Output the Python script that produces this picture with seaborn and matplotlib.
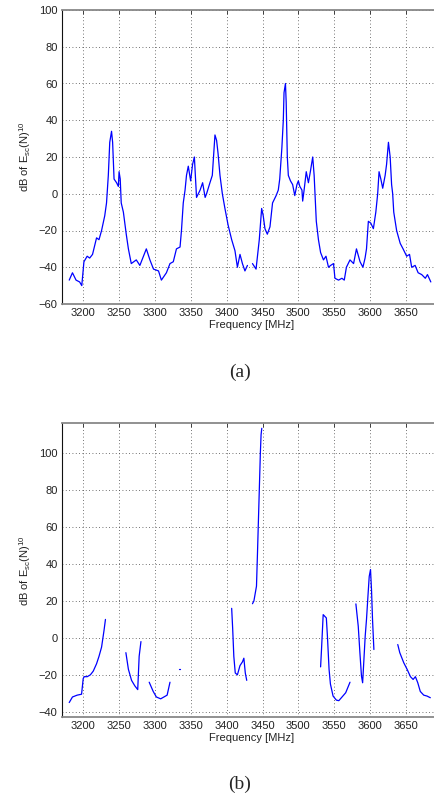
import numpy as np
import pandas as pd
import matplotlib
matplotlib.use("Agg")
import matplotlib.pyplot as plt
import seaborn as sns

# panel (a): continuous spectrum, one gap near 3432 MHz
freq_a = [3180.5, 3185, 3190, 3195, 3198, 3201, 3205.5, 3209, 3213, 3218.6, 3222, 3225.6, 3230, 3232.5,
          3235, 3237, 3239.5, 3241, 3243, 3246.5, 3249, 3250, 3251.6, 3253, 3256, 3260, 3263, 3267,
          3274, 3279, 3288, 3293, 3298, 3305, 3309, 3316, 3321, 3325.6, 3330, 3335, 3337, 3339.5,
          3342, 3344, 3346.5, 3349.8, 3352.5, 3355, 3358, 3363, 3366.5, 3370, 3372, 3376.7, 3380,
          3383.7, 3386, 3388, 3390.7, 3394, 3397.6, 3402, 3407, 3411.6, 3415, 3418.6, 3422, 3425.5,
          3429, 3432, 3436, 3441, 3445.5, 3448.8, 3451, 3453.4, 3456.7, 3460.4, 3464, 3469, 3472,
          3474, 3477, 3479, 3480, 3482, 3483, 3484.6, 3486, 3489, 3492, 3495, 3498, 3500, 3502,
          3505, 3506, 3508, 3511, 3514, 3516.7, 3520, 3522, 3525, 3528, 3531, 3535, 3538.5, 3542,
          3545, 3549, 3551, 3556, 3560.7, 3564, 3567, 3572, 3577, 3581, 3586, 3590, 3593, 3595,
          3597.6, 3601, 3604.6, 3608, 3610.6, 3612.5, 3615, 3617.6, 3621, 3623, 3625.6, 3628, 3630,
          3631.5, 3633, 3637, 3642, 3646, 3651, 3655, 3658, 3662.8, 3667, 3672, 3677, 3680, 3684.7]
level_a = [-47, -43, -47, -48, -50, -37, -34, -35, -33, -24, -25, -20, -12, -5,
           10, 28, 34, 28, 8, 6, 4, 12, 8, -5, -10, -22, -30, -38,
           -36, -39, -30, -36, -41, -42, -47, -43, -38, -37, -30, -29, -20, -5,
           2, 10, 15, 7, 16, 20, -2, 2, 6, -2, 0, 6, 10,
           32, 29, 22, 10, 0, -8, -17, -25, -31, -40, -33, -38, -42,
           -39, np.nan, -38, -41, -25, -8, -12, -19, -22, -18, -5, -1, 2,
           8, 25, 40, 55, 60, 50, 20, 10, 7, 5, -1, 5, 7, 4,
           2, -4, 2, 12, 6, 12, 20, 10, -15, -25, -32, -36, -34, -40,
           -39, -38, -46, -47, -46, -47, -40, -36, -38, -30, -37, -40, -35, -30,
           -15, -16, -19, -10, 0, 12, 8, 3, 10, 16, 28, 20, 5,
           0, -10, -20, -27, -30, -34, -33, -40, -39, -43, -44, -46, -44, -48]

# panel (b): broken segments, NaN marks a gap
freq_b = [3180.5, 3185, 3191.6, 3197.7, 3200, 3201.4, 3205.6, 3210, 3214, 3218.6, 3222, 3225.6, 3229, 3231,
          np.nan,
          3259.5, 3263, 3267.4, 3272, 3276, 3278, 3280.5,
          np.nan,
          3292, 3297.6, 3302, 3308, 3312.5, 3317, 3321,
          np.nan,
          3333.5, 3334.5,
          np.nan,
          3407, 3408.4, 3410, 3412, 3415, 3418.6, 3422, 3424, 3426, 3428,
          np.nan,
          3436, 3438, 3441.6, 3443, 3445, 3447, 3448, 3449,
          np.nan,
          3531, 3532.3, 3534.6, 3539, 3540.5, 3542.8, 3544.7, 3548.4, 3553, 3556.4, 3560, 3566, 3572,
          np.nan,
          3580.2, 3583.5, 3585.8, 3588, 3589.6, 3591.4, 3593.2, 3595, 3597, 3598.8, 3600.6, 3602,
          3603.4, 3605.3,
          np.nan,
          3638.6, 3641.4, 3647, 3651.6, 3656.3, 3660, 3663.2, 3666.5, 3670, 3674.8, 3679.4, 3684]
level_b = [-35, -32, -31, -30.5, -22, -21, -21, -20, -18, -14, -10, -5, 4, 10,
           np.nan,
           -8, -17, -23, -26, -28, -10, -2,
           np.nan,
           -24, -29, -32, -33, -32, -31, -24,
           np.nan,
           -17, -17,
           np.nan,
           16, 5, -10, -19, -20, -15, -13, -11, -19, -23,
           np.nan,
           18.5, 20, 28, 46, 73, 100, 110, 113.5,
           np.nan,
           -15.7, -6, 12.6, 10.8, 1, -17, -25, -31.5, -33.7, -34, -32.4, -29.7, -24,
           np.nan,
           18.4, 6.3, -8, -20.7, -24.3, -11.7, 1, 10, 22.5, 33.3, 37, 26,
           10, -6.3,
           np.nan,
           -3.6, -8, -13.5, -17, -21, -22.5, -21, -24.3, -29, -31, -31.5, -32.4]

x_ticks = [3200, 3250, 3300, 3350, 3400, 3450, 3500, 3550, 3600, 3650]


def to_frame(f, v):
    df = pd.DataFrame({"freq": f, "level": v})
    df["seg"] = df["level"].isna().cumsum()
    return df.dropna()


sns.set_style("white")
plt.rcParams["font.family"] = ["Liberation Sans", "DejaVu Sans"]
plt.rcParams["mathtext.default"] = "regular"

fig = plt.figure(figsize=(4.34, 7.99), dpi=100, facecolor="white")
W, H = 434, 799
left = 61.7 / W
width = (441.8 - 61.7) / W   # axis runs past the right edge, as in the cropped original

panels = [
    (to_frame(freq_a, level_a), 10, 304, (-60, 100), np.arange(-60, 101, 20), "(a)", 372),
    (to_frame(freq_b, level_b), 423.3, 717.3, (-43, 116.2), np.arange(-40, 101, 20), "(b)", 784),
]

for df, top_px, bot_px, ylim, yt, tag, tag_y in panels:
    ax = fig.add_axes([left, 1 - bot_px / H, width, (bot_px - top_px) / H])
    sns.lineplot(data=df, x="freq", y="level", units="seg", estimator=None,
                 color="#0000ff", linewidth=0.9, ax=ax, legend=False)
    ax.set_xlim(3170, 3700)
    ax.set_ylim(*ylim)
    ax.set_xticks(x_ticks)
    ax.set_yticks(yt)
    ax.grid(True, linestyle=(0, (1, 3)), color="#444444", linewidth=0.6)
    ax.tick_params(direction="in", length=3, width=0.6, labelsize=8, top=True,
                   colors="#222222", pad=3)
    ax.set_xlabel("Frequency [MHz]", fontsize=8, labelpad=1, color="#222222")
    ax.set_ylabel("dB of E$_{sc}$(N)$^{10}$", fontsize=8, color="#222222")
    ax.yaxis.set_label_coords(-0.075, 0.5)
    ax.spines["right"].set_visible(False)
    ax.spines["left"].set_color("#111111")
    ax.spines["left"].set_linewidth(0.8)
    for s in ("top", "bottom"):
        ax.spines[s].set_color("#888888")
        ax.spines[s].set_linewidth(1.3)
    fig.text(240 / W, 1 - tag_y / H, tag, fontsize=14, family="Liberation Serif",
             ha="center", va="center")

plt.savefig("out.png", dpi=100)
